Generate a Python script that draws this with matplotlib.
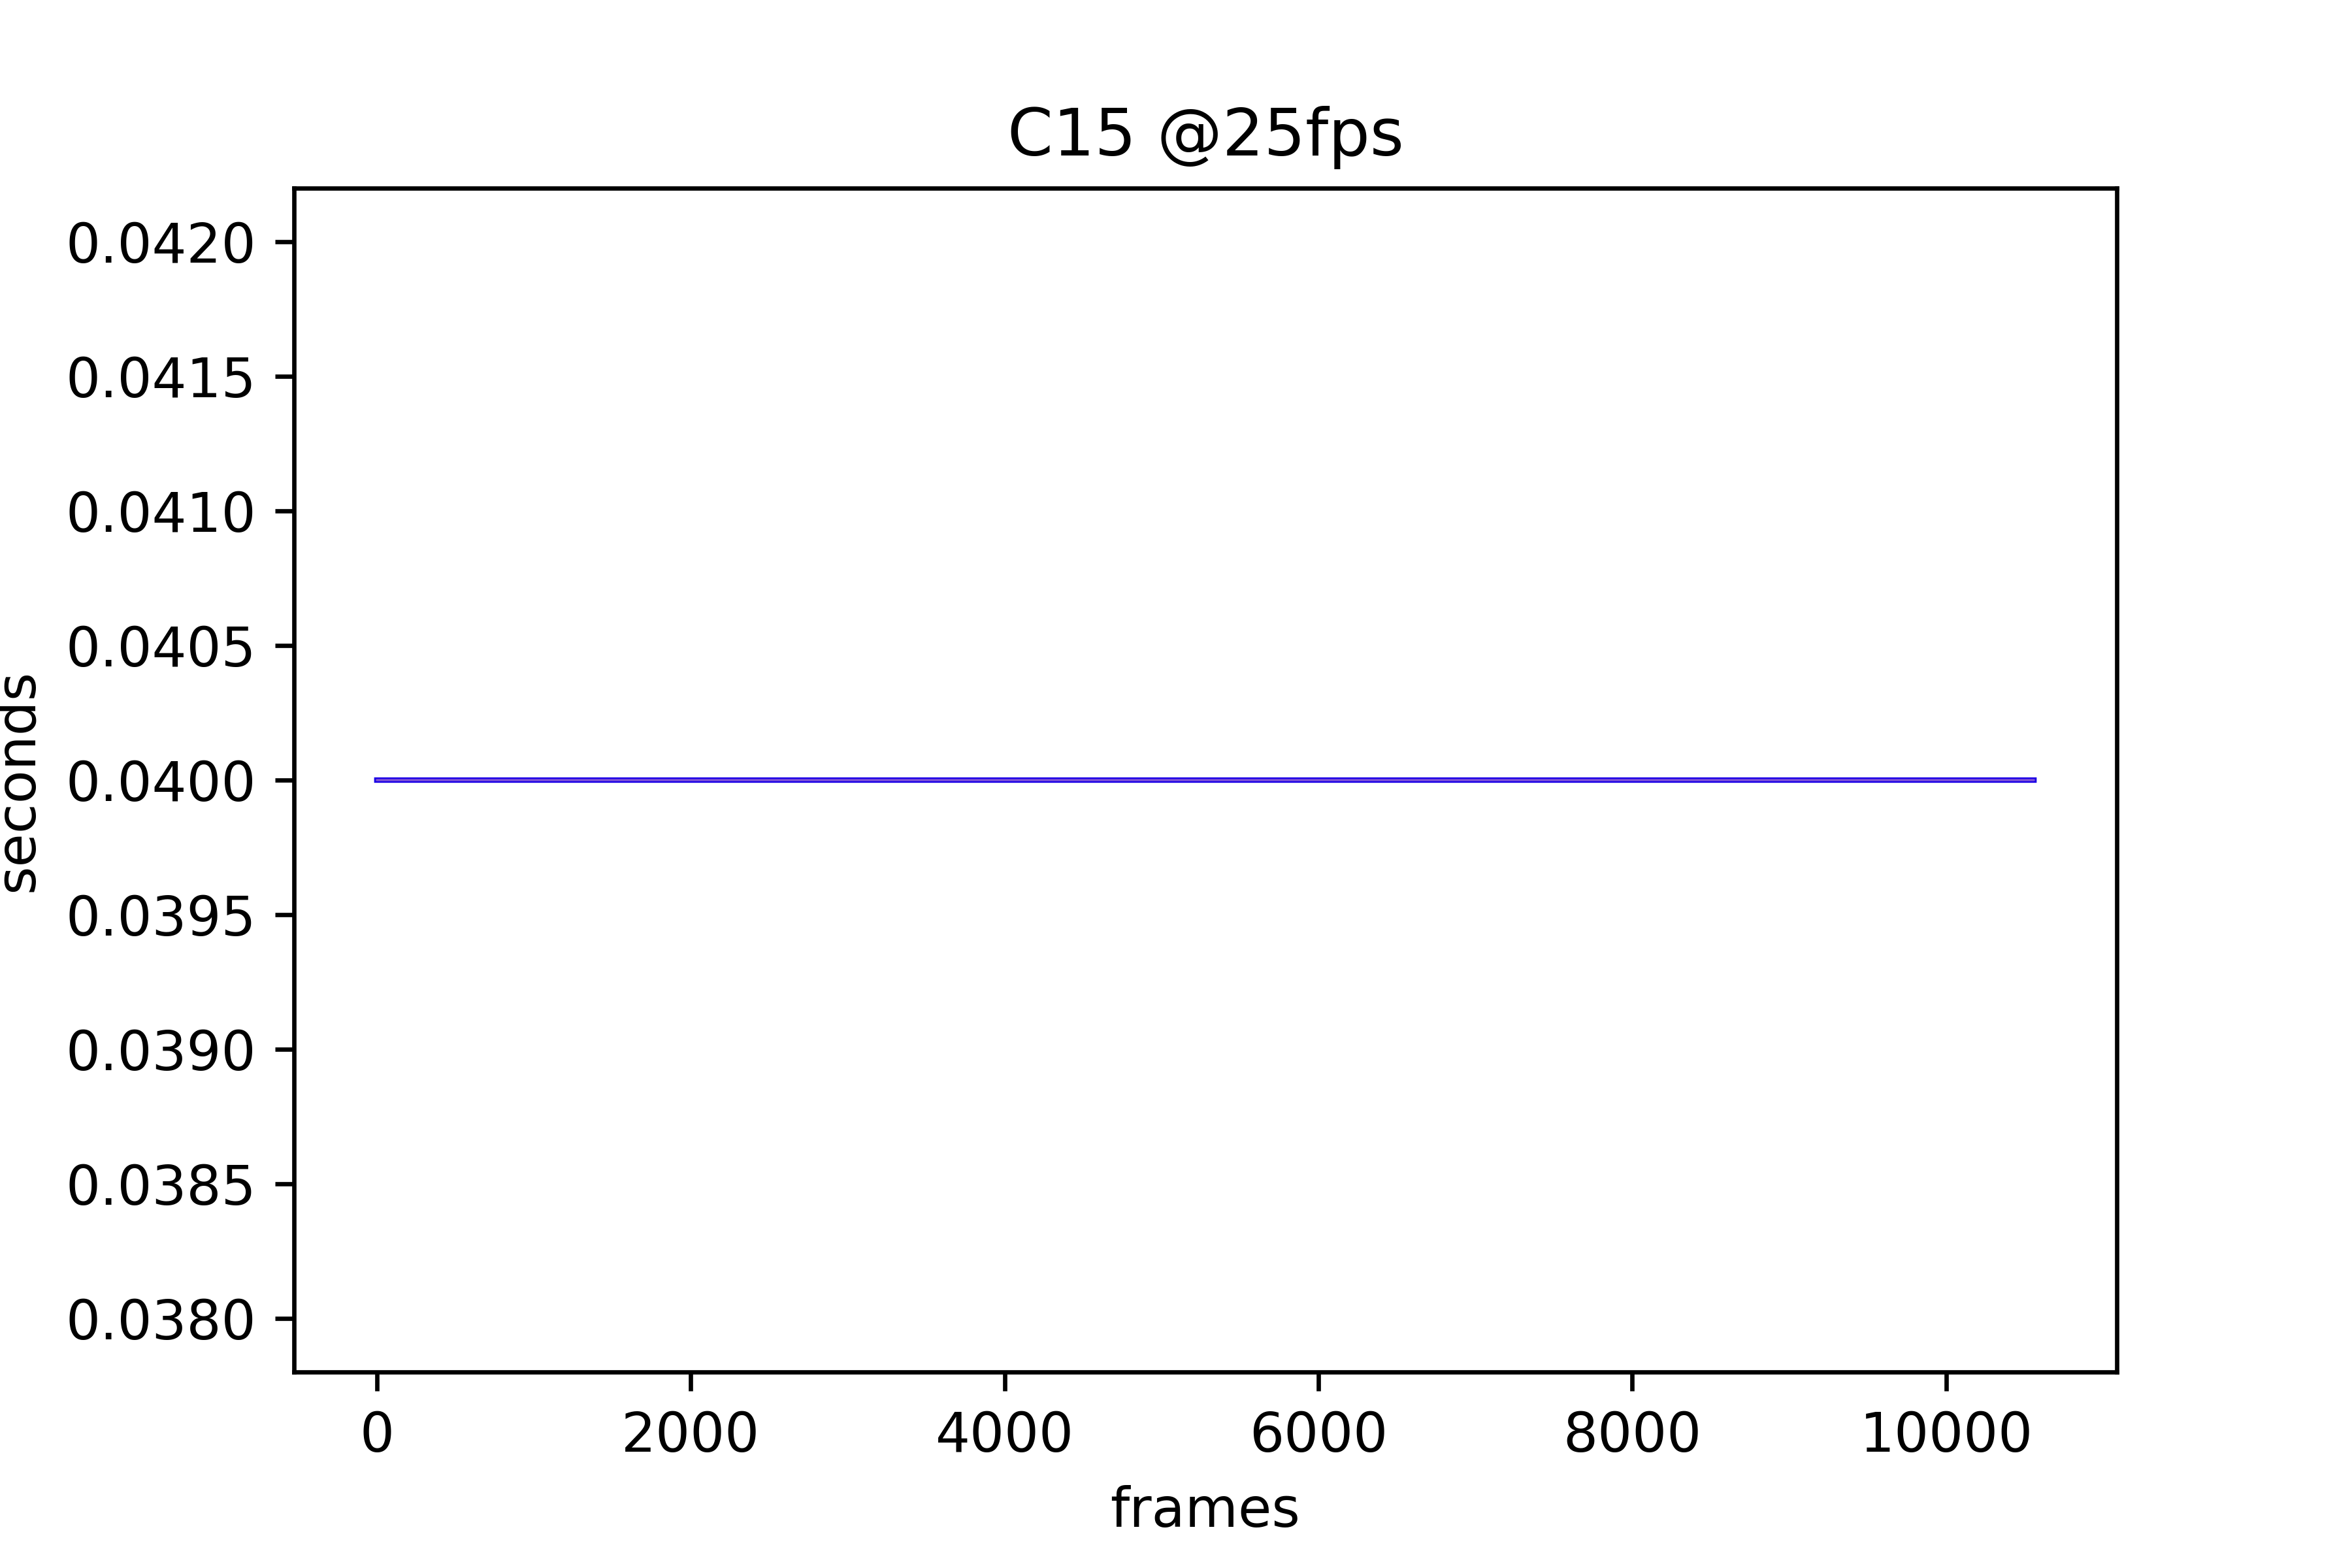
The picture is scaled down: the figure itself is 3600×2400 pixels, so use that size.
import numpy as np
import matplotlib
matplotlib.use('Agg')
import matplotlib.pyplot as plt

# frame durations for the C15 clip, constant 1/25 s
frame_count = 10560
frame_seconds = 0.04
frames = np.arange(frame_count)
durations = np.full(frame_count, frame_seconds)

fig = plt.figure(figsize=(6, 4), dpi=600)
fig.subplots_adjust(left=0.125, right=0.9, top=0.88, bottom=0.125)
ax = fig.add_subplot(1, 1, 1)

ax.plot(frames, durations, color='#1a00e6', linewidth=1.0)
ax.plot(frames, durations, color='#9a6ad0', linewidth=0.4, alpha=0.8,
        solid_capstyle='round')

ax.set_title('C15 @25fps')
ax.set_xlabel('frames')
ax.set_ylabel('seconds')
ax.set_xticks([0, 2000, 4000, 6000, 8000, 10000])
ax.yaxis.set_major_formatter(matplotlib.ticker.FormatStrFormatter('%.4f'))

fig.savefig('out.png', dpi=600)
